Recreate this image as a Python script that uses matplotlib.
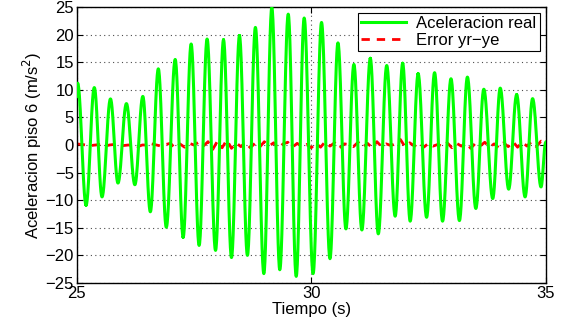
import numpy as np
import matplotlib
matplotlib.use('Agg')
from matplotlib import pyplot as plt

plt.rcParams['font.family'] = ['Liberation Sans', 'DejaVu Sans']

# extremos de la aceleracion real (t en s, valor en m/s^2)
t_ini, v_ini = 25.0, 8.8
t_fin, v_fin = 35.0, 0.5
t_picos = [25.02, 25.375, 25.72, 26.06, 26.41, 26.74, 27.10, 27.44, 27.78, 28.13,
           28.47, 28.81, 29.16, 29.51, 29.85, 30.22, 30.57, 30.91, 31.26, 31.61,
           31.95, 32.28, 32.63, 32.98, 33.33, 33.68, 34.03, 34.38, 34.72]
v_picos = [11.2, 10.4, 8.35, 7.5, 8.8, 13.8, 15.5, 18.3, 19.2, 19.05,
           19.8, 21.3, 24.9, 23.7, 23.0, 22.2, 18.5, 14.6, 15.7, 14.4,
           14.8, 12.9, 13.1, 12.0, 12.3, 10.1, 10.3, 9.1, 8.4]
t_valles = [25.20, 25.54, 25.88, 26.24, 26.57, 26.91, 27.27, 27.61, 27.96, 28.30,
            28.64, 28.99, 29.33, 29.68, 30.04, 30.40, 30.74, 31.08, 31.43, 31.79,
            32.11, 32.46, 32.80, 33.16, 33.51, 33.87, 34.21, 34.56, 34.90]
v_valles = [-10.9, -9.4, -6.9, -7.2, -12.1, -14.9, -16.7, -18.2, -19.1, -20.4,
            -20.0, -23.3, -22.6, -23.8, -23.3, -20.6, -15.2, -15.4, -16.1, -12.9,
            -13.8, -13.1, -13.8, -13.7, -11.5, -9.7, -8.0, -9.4, -7.6]

# error yr-ye cada 0.1 s
t_err = np.linspace(25, 35, 101)
v_err = [0.2, 0.1, 0.0, -0.1, 0.0, 0.1, -0.2, 0.0, 0.1, -0.1,
         -0.1, 0.0, -0.1, -0.3, 0.0, 0.0, 0.2, 0.0, -0.2, 0.1,
         0.3, -0.6, 0.2, -0.4, 0.3, 0.0, 0.5, -0.2, 0.6, -0.8,
         0.7, -0.5, 0.9, -0.6, 0.4, -0.3, 0.5, -0.5, 0.3, -0.4,
         0.6, -0.2, 0.4, -0.6, 0.2, 0.5, -0.4, 0.3, -0.3, 0.1,
         -0.5, 0.3, -0.4, 0.6, -0.2, 0.4, -0.6, 0.2, 0.1, -0.3,
         0.5, -0.4, 0.3, -0.5, 0.6, -0.3, 0.2, -0.1, 0.3, 1.0,
         -0.3, 0.4, -0.2, 0.5, -0.4, 0.3, -0.2, 0.1, -0.3, 0.4,
         -0.5, 0.3, -0.2, 0.4, -0.6, 0.3, -0.2, 0.5, -0.4, 0.2,
         -0.5, 0.4, -0.3, 0.6, -0.4, 0.5, -0.2, 0.6, -0.3, 0.7, 0.4]

# secuencia alternada pico/valle, unida con medios cosenos
tk = [t_ini]
vk = [v_ini]
for i in range(len(t_picos)):
    tk += [t_picos[i], t_valles[i]]
    vk += [v_picos[i], v_valles[i]]
tk.append(t_fin)
vk.append(v_fin)

t_real, v_real = [], []
for a in range(len(tk) - 1):
    s = np.linspace(0, 1, 30)
    t_real.append(tk[a] + (tk[a+1] - tk[a]) * s)
    v_real.append(vk[a] + (vk[a+1] - vk[a]) * (1 - np.cos(np.pi * s)) / 2)
t_real = np.concatenate(t_real)
v_real = np.concatenate(v_real)

fig = plt.figure(figsize=(5.64, 3.27), dpi=100)
ax = fig.add_axes([0.136, 0.1346, 0.8316, 0.844])
ax.plot(t_err, v_err, color=(1, 0, 0), lw=2, ls=(0, (3, 2.5)), zorder=2, label='Error yr\u2212ye')
ax.plot(t_real, v_real, color=(0, 1, 0), lw=2.2, zorder=3, label='Aceleracion real')

ax.set_xlim(25, 35)
ax.set_ylim(-25, 25)
ax.set_xticks([25, 30, 35])
ax.set_yticks(np.arange(-25, 26, 5))
ax.set_yticklabels(['\u2212%d' % -v if v < 0 else '%d' % v for v in range(-25, 26, 5)])
ax.tick_params(direction='in', top=True, right=True, labelsize=12, length=4, pad=2)
ax.grid(True, ls=(0, (1, 3)), color='0.3', lw=0.8)
for sp in ax.spines.values():
    sp.set_linewidth(1.0)

ax.set_xlabel('Tiempo (s)', fontsize=12, labelpad=1)
ax.set_ylabel('Aceleracion piso 6 (m/s$^2$)', fontsize=12, labelpad=1)

h, l = ax.get_legend_handles_labels()
leg = ax.legend(h[::-1], l[::-1], loc='upper right', fontsize=12, fancybox=False,
                framealpha=1, edgecolor='black', borderpad=0.2, labelspacing=0.1,
                handlelength=2.7, handletextpad=0.6, borderaxespad=0.35)
leg.get_frame().set_linewidth(0.8)

fig.savefig('out.png', dpi=100)
